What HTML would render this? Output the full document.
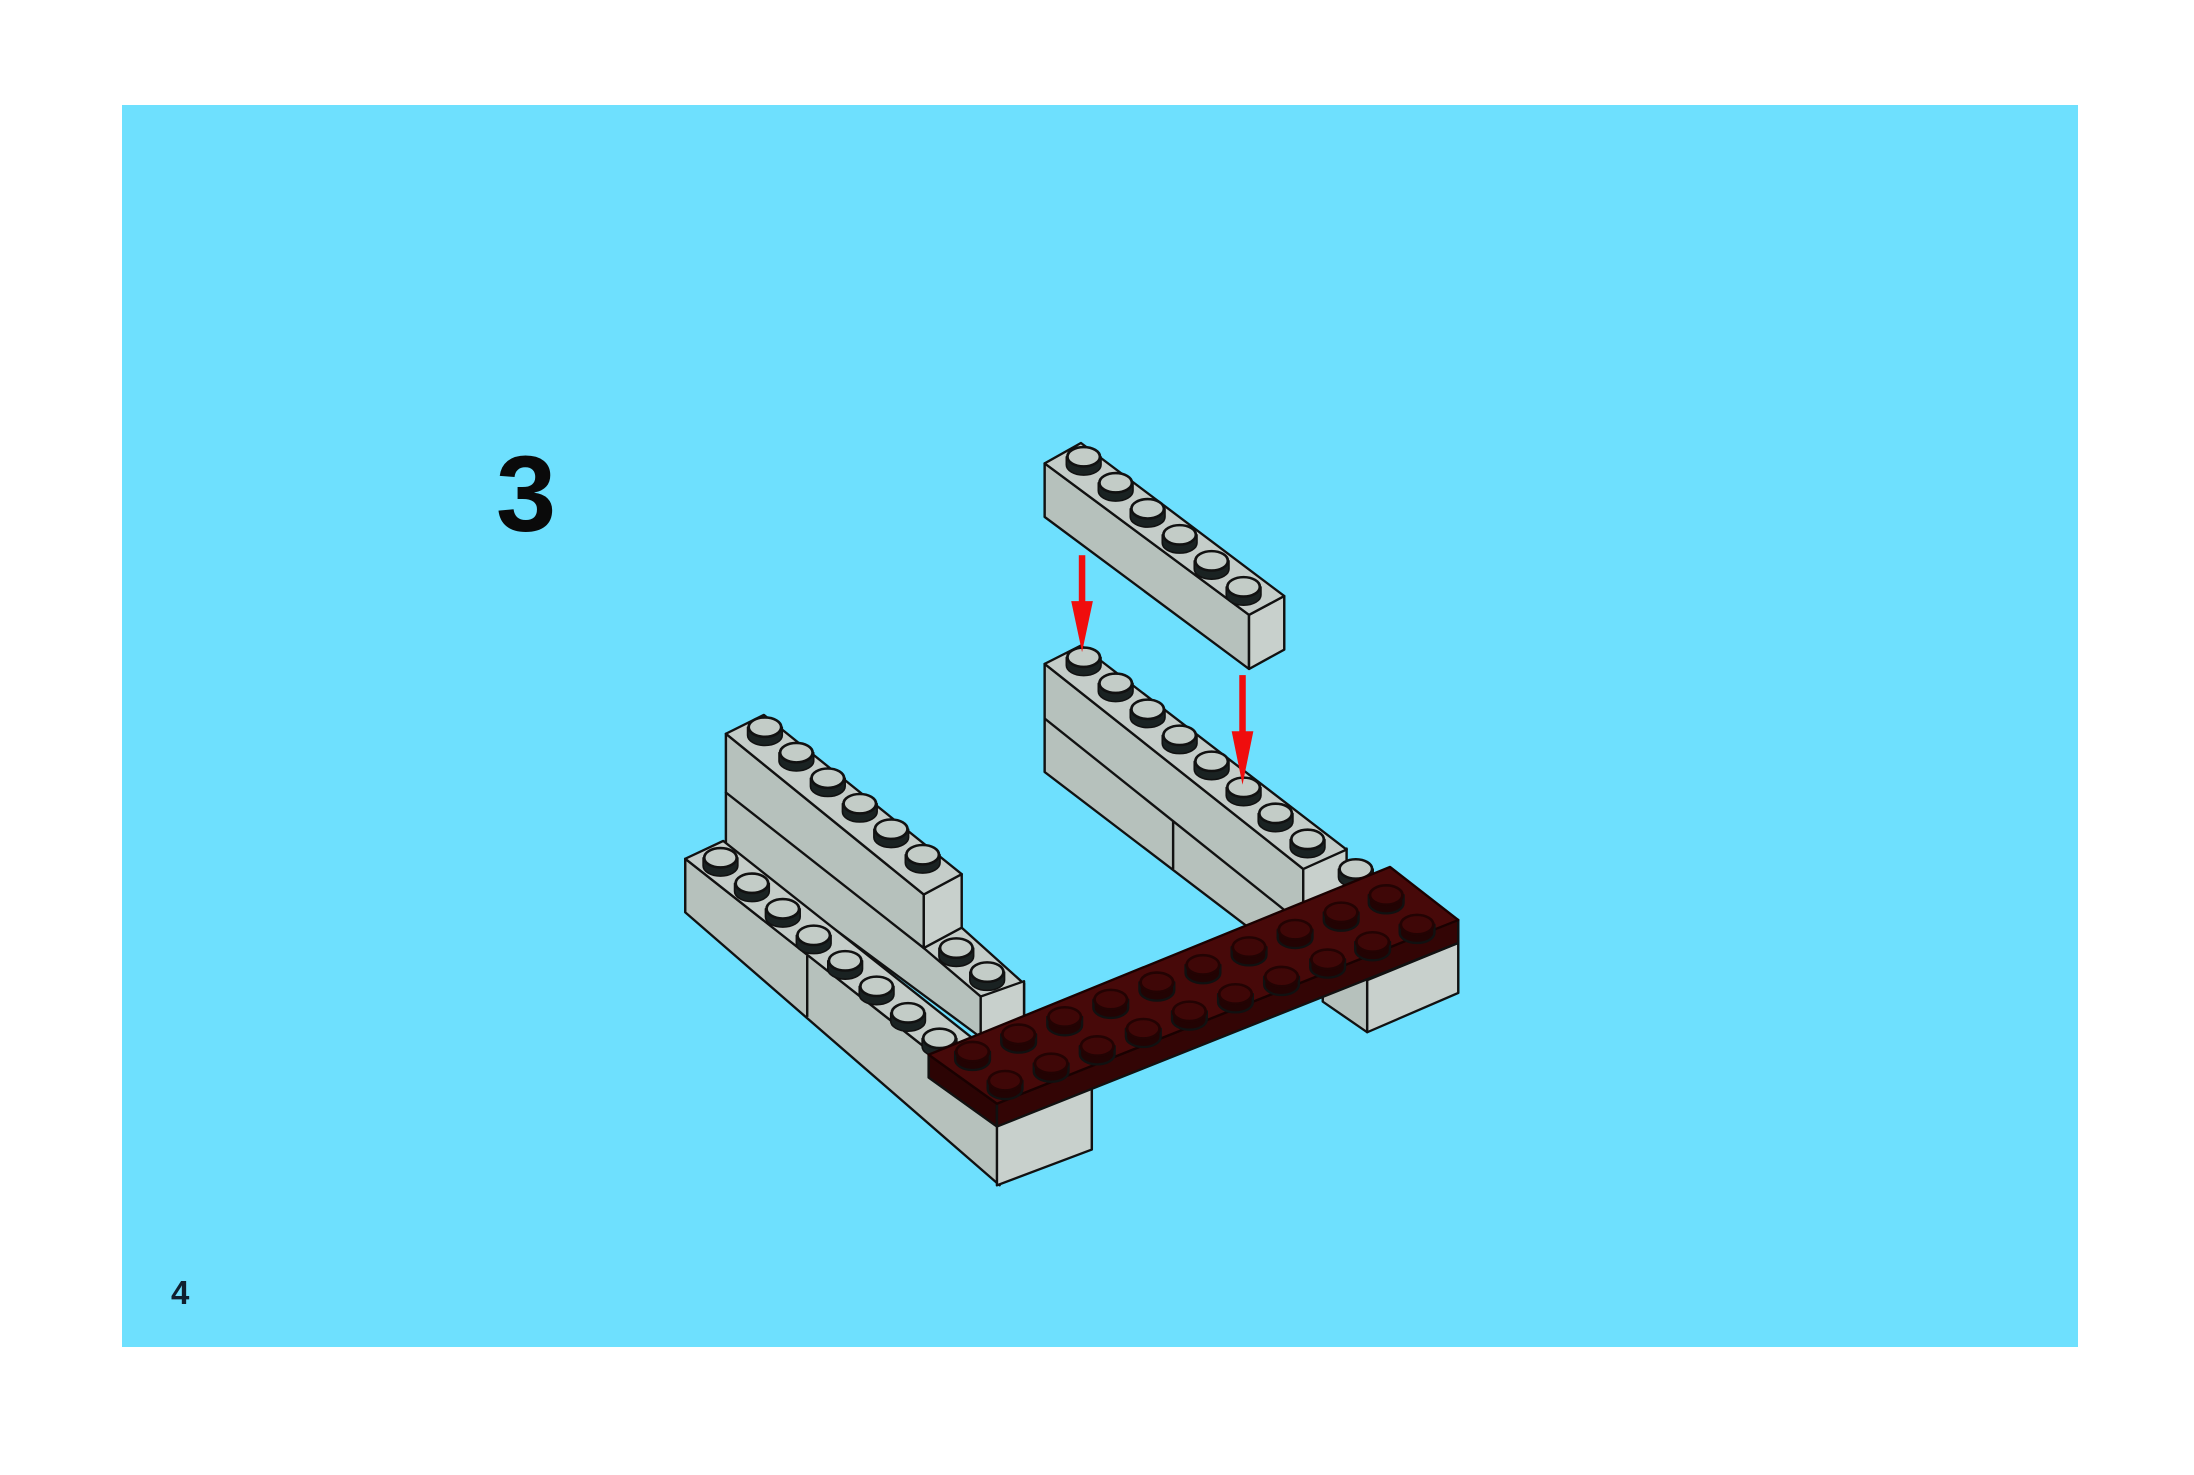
<!DOCTYPE html>
<html><head><meta charset="utf-8"><style>
html,body{margin:0;padding:0;background:#fff;}
#w{position:relative;width:2194px;height:1475px;overflow:hidden;background:#fff;}
#bg{position:absolute;left:122px;top:105px;width:1956px;height:1242px;background:#6ee0fe;}
.t{position:absolute;font-family:"Liberation Sans",sans-serif;font-weight:bold;color:#0a0a0a;}
svg{position:absolute;left:0;top:0;}
</style></head><body><div id="w">
<div id="bg"></div>
<div class="t" style="left:496px;top:440px;font-size:108px;line-height:108px;">3</div>
<div class="t" style="left:171px;top:1276px;font-size:33px;line-height:34px;color:#102030;">4</div>
<svg width="2194" height="1475" viewBox="0 0 2194 1475">
<defs>
<g id="s"><path d="M-32,0 L-32,16 A32 20 0 0 0 32,16 L32,0 Z" fill="#1a2222" stroke="#111" stroke-width="3"/><ellipse cx="0" cy="0" rx="30" ry="19" fill="#c3ccc7" stroke="#111" stroke-width="5"/></g>
<g id="d"><path d="M-32,0 L-32,16 A32 20 0 0 0 32,16 L32,0 Z" fill="#220303"/><ellipse cx="0" cy="0" rx="30" ry="19" fill="#3f0707" stroke="#230303" stroke-width="5"/></g>
</defs>
<g transform="translate(650,420) scale(0.5421,0.5102)" stroke="#111" stroke-width="4.5" stroke-linejoin="round">
<!-- back left stack -->
<polygon points="140,730 690,1105 690,1200 610,1210 140,840" fill="#b6c1bc"/>
<polygon points="505,1035 575,995 690,1105 610,1130" fill="#c5cdc9"/>
<polygon points="610,1130 690,1100 690,1200 610,1215" fill="#c8d0cc"/>
<use href="#s" x="565" y="1035"/><use href="#s" x="622" y="1082"/>
<polygon points="140,615 505,930 505,1035 140,730" fill="#b6c1bc"/>
<polygon points="505,930 575,890 575,995 505,1035" fill="#c8d0cc"/>
<polygon points="140,615 210,578 575,890 505,930" fill="#c5cdc9"/>
<use href="#s" x="212" y="602"/><use href="#s" x="270" y="652"/><use href="#s" x="328" y="702"/><use href="#s" x="387" y="752"/><use href="#s" x="445" y="802"/><use href="#s" x="503" y="852"/>
<!-- front left row -->
<polygon points="65,860 645,1345 645,1500 65,965" fill="#b6c1bc"/>
<line x1="290" y1="1050" x2="290" y2="1170"/>
<polygon points="65,860 135,825 700,1300 645,1345" fill="#c5cdc9"/>
<use href="#s" x="130" y="858"/><use href="#s" x="188" y="908"/><use href="#s" x="245" y="958"/><use href="#s" x="302" y="1010"/><use href="#s" x="360" y="1060"/><use href="#s" x="418" y="1110"/><use href="#s" x="476" y="1162"/><use href="#s" x="534" y="1212"/>
<polygon points="640,1380 815,1300 815,1430 640,1500" fill="#c8d0cc"/>
<!-- middle right stack -->
<polygon points="728,478 1205,880 1205,1000 1160,1040 728,690" fill="#b6c1bc"/>
<line x1="728" y1="585" x2="1205" y2="990"/>
<line x1="965" y1="785" x2="965" y2="880"/>
<polygon points="1205,880 1285,840 1285,945 1205,990" fill="#c8d0cc"/>
<polygon points="728,478 795,442 1285,842 1205,880" fill="#c5cdc9"/>
<use href="#s" x="800" y="465"/><use href="#s" x="859" y="516"/><use href="#s" x="918" y="567"/><use href="#s" x="977" y="618"/><use href="#s" x="1036" y="669"/><use href="#s" x="1095" y="720"/><use href="#s" x="1154" y="771"/><use href="#s" x="1213" y="822"/>
<use href="#s" x="1302" y="880"/>
<!-- right support -->
<polygon points="1241,1070 1323,1098 1323,1200 1241,1140" fill="#b6c1bc"/>
<polygon points="1323,1098 1491,1025 1491,1123 1323,1200" fill="#c8d0cc"/>
<!-- plate -->
<polygon points="514,1244 640,1340 640,1385 514,1289" fill="#2c0404"/>
<polygon points="640,1340 1491,980 1491,1025 640,1385" fill="#330505"/>
<polygon points="514,1244 1365,876 1491,980 640,1340" fill="#470909" stroke="#1a0101"/>
<use href="#d" x="595" y="1238"/><use href="#d" x="680" y="1204"/><use href="#d" x="765" y="1170"/><use href="#d" x="850" y="1136"/><use href="#d" x="935" y="1102"/><use href="#d" x="1020" y="1068"/><use href="#d" x="1105" y="1033"/><use href="#d" x="1190" y="999"/><use href="#d" x="1275" y="965"/><use href="#d" x="1358" y="931"/>
<use href="#d" x="655" y="1295"/><use href="#d" x="740" y="1261"/><use href="#d" x="825" y="1227"/><use href="#d" x="910" y="1193"/><use href="#d" x="995" y="1159"/><use href="#d" x="1080" y="1125"/><use href="#d" x="1165" y="1091"/><use href="#d" x="1250" y="1057"/><use href="#d" x="1333" y="1023"/><use href="#d" x="1415" y="989"/>
<!-- floating brick -->
<polygon points="728,85 1105,382 1105,488 728,190" fill="#b6c1bc"/>
<polygon points="1105,382 1170,345 1170,450 1105,488" fill="#c8d0cc"/>
<polygon points="728,85 795,45 1170,345 1105,382" fill="#c5cdc9"/>
<use href="#s" x="800" y="72"/><use href="#s" x="859" y="123"/><use href="#s" x="918" y="174"/><use href="#s" x="977" y="225"/><use href="#s" x="1036" y="276"/><use href="#s" x="1095" y="327"/>
<!-- arrows -->
<g stroke="none" fill="#f00d0d">
<rect x="791" y="265" width="12" height="100"/><polygon points="777,355 817,355 797,455"/>
<rect x="1087" y="500" width="12" height="120"/><polygon points="1073,610 1113,610 1093,715"/>
</g>
</g>
</svg>
</div></body></html>
